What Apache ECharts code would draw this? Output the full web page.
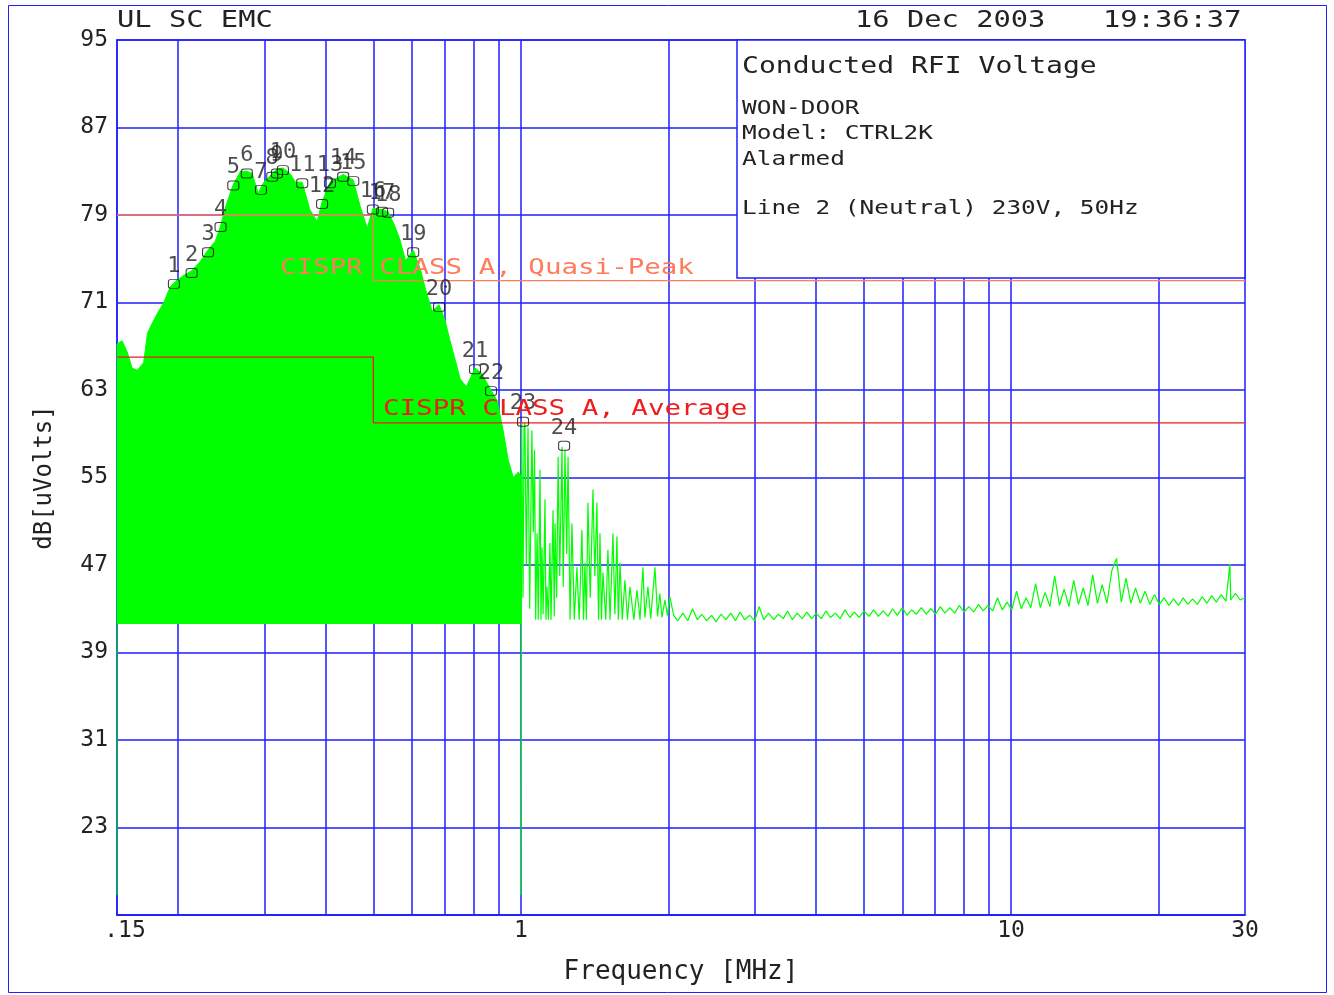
<!DOCTYPE html>
<html>
<head>
<meta charset="utf-8">
<title>Conducted RFI Voltage</title>
<script src="https://cdn.jsdelivr.net/npm/echarts@6/dist/echarts.min.js"></script>
<style>
  html, body { margin: 0; padding: 0; background: #ffffff; }
  #chart { width: 1334px; height: 995px; }
</style>
</head>
<body>
<div id="chart"></div>
<script>
// fonts / colours
const FONT = '"DejaVu Sans Mono", monospace';
const BLUE = '#1f1fff';
const GREEN = '#00ff00';

// axes
const yMin = 15, yMax = 95, yStep = 8;
const fMin = 0.15, fMax = 30;
const gridFreqs = [0.2, 0.3, 0.4, 0.5, 0.6, 0.7, 0.8, 0.9, 1, 2, 3, 4, 5, 6, 7, 8, 9, 10, 20];
const xTickText = { '0.15': '{lo|.15}', '1': '1', '10': '10', '30': '30' };

// sweep 1 (0.15 - 1 MHz), peak envelope [MHz, dBuV], filled down to the noise floor
const noiseFloor = 41.6;
const sweep1 = [
  [0.15, 16.8], [0.15, 67.2], [0.1536, 67.5], [0.1573, 66.5], [0.1611, 65.0], [0.165, 64.8],
  [0.170, 65.5], [0.1731, 68.2], [0.1774, 69.2], [0.1813, 70.0], [0.1869, 71.0], [0.1924, 72.4],
  [0.197, 72.9], [0.204, 73.4], [0.213, 73.9], [0.2214, 74.7], [0.230, 75.8], [0.238, 76.6],
  [0.244, 78.0], [0.250, 79.8], [0.259, 81.8], [0.268, 83.0], [0.276, 83.0], [0.283, 82.8],
  [0.291, 81.0], [0.299, 82.0], [0.311, 82.8], [0.318, 83.2], [0.327, 83.3], [0.338, 82.8],
  [0.347, 82.0], [0.358, 82.0], [0.371, 79.5], [0.384, 78.4], [0.393, 80.2], [0.408, 82.0],
  [0.422, 82.4], [0.434, 82.7], [0.455, 82.2], [0.470, 79.8], [0.486, 77.8], [0.499, 79.6],
  [0.521, 79.5], [0.536, 79.3], [0.553, 78.0], [0.566, 76.8], [0.582, 74.8], [0.603, 75.8],
  [0.624, 74.0], [0.639, 72.2], [0.659, 70.2], [0.681, 70.8], [0.700, 69.4], [0.716, 67.6],
  [0.735, 65.7], [0.752, 64.0], [0.774, 63.3], [0.806, 65.0], [0.829, 64.6], [0.869, 63.0],
  [0.895, 62.0], [0.920, 59.3], [0.942, 56.6], [0.965, 55.0], [0.988, 55.5], [0.998, 55.2],
  [0.998, 41.6]
];

// sweep 2 (1 - 30 MHz), trace readings [MHz, dBuV]
const sweep2 = [
  [1.0, 16.8], [1.002, 41.8], [1.004, 60.1], [1.010, 44.0], [1.015, 59.5], [1.019, 60.0],
  [1.026, 47.0], [1.034, 59.6], [1.042, 43.0], [1.053, 59.3], [1.060, 50.0], [1.066, 57.5],
  [1.072, 42.0], [1.079, 49.9], [1.085, 42.0], [1.094, 55.7], [1.099, 42.0], [1.104, 48.6],
  [1.110, 42.5], [1.120, 53.0], [1.125, 42.0], [1.130, 45.0], [1.138, 42.0], [1.146, 49.0],
  [1.152, 42.0], [1.163, 52.0], [1.170, 42.3], [1.174, 50.8], [1.183, 44.0], [1.191, 56.9],
  [1.200, 46.0], [1.213, 57.8], [1.220, 45.0], [1.230, 57.5], [1.240, 48.0], [1.248, 56.9],
  [1.260, 42.0], [1.271, 50.8], [1.285, 42.0], [1.301, 46.8], [1.315, 42.0], [1.332, 50.2],
  [1.342, 42.0], [1.351, 47.2], [1.360, 42.0], [1.370, 52.7], [1.385, 44.0], [1.403, 53.9],
  [1.415, 46.0], [1.429, 52.7], [1.440, 42.0], [1.450, 49.9], [1.460, 42.0], [1.470, 46.3],
  [1.490, 42.0], [1.505, 48.4], [1.520, 42.0], [1.541, 49.9], [1.555, 42.5], [1.570, 49.6],
  [1.580, 42.0], [1.593, 47.2], [1.610, 42.0], [1.630, 45.6], [1.650, 42.0], [1.669, 45.0],
  [1.700, 42.0], [1.725, 44.7], [1.750, 42.0], [1.774, 46.8], [1.790, 42.2], [1.816, 45.0],
  [1.840, 42.1], [1.877, 46.8], [1.900, 42.3], [1.921, 44.4], [1.940, 42.2], [1.967, 43.8],
  [1.990, 42.4], [2.013, 44.1],
  [2.05, 42.4], [2.09, 41.9], [2.14, 42.6], [2.19, 41.9], [2.24, 43.0], [2.29, 42.0], [2.34, 42.5],
  [2.39, 41.9], [2.45, 42.4], [2.5, 41.8], [2.56, 42.5], [2.62, 42.0], [2.68, 42.6], [2.74, 41.9],
  [2.8, 42.7], [2.86, 42.0], [2.93, 42.4], [3.0, 41.9], [3.06, 43.2], [3.13, 42.0], [3.2, 42.6],
  [3.28, 42.0], [3.35, 42.5], [3.43, 42.1], [3.5, 42.8], [3.58, 42.0], [3.66, 42.6], [3.75, 42.1],
  [3.83, 42.7], [3.92, 42.1], [4.0, 42.6], [4.1, 42.1], [4.19, 42.8], [4.28, 42.2], [4.38, 42.6],
  [4.48, 42.1], [4.58, 42.9], [4.69, 42.2], [4.79, 42.7], [4.9, 42.2], [5.01, 42.8], [5.13, 42.3],
  [5.24, 42.9], [5.36, 42.3], [5.48, 42.8], [5.61, 42.3], [5.73, 43.0], [5.86, 42.4], [6.0, 43.1],
  [6.13, 42.4], [6.27, 42.9], [6.41, 42.5], [6.56, 43.1], [6.71, 42.5], [6.86, 43.0], [7.01, 42.5],
  [7.17, 43.2], [7.33, 42.6], [7.5, 43.1], [7.67, 42.6], [7.84, 43.3], [8.02, 42.7], [8.2, 43.2],
  [8.39, 42.7], [8.58, 43.4], [8.77, 42.8], [8.97, 43.3], [9.17, 42.8], [9.38, 44.0], [9.59, 42.9],
  [9.81, 43.6], [10.03, 42.9], [10.26, 44.6], [10.49, 43.0], [10.73, 44.0], [10.97, 43.1],
  [11.22, 45.3], [11.47, 43.1], [11.73, 44.5], [12.0, 43.2], [12.27, 46.0], [12.55, 43.3],
  [12.83, 44.8], [13.12, 43.2], [13.42, 45.6], [13.72, 43.4], [14.03, 44.9], [14.35, 43.3],
  [14.67, 46.1], [15.0, 43.5], [15.34, 45.2], [15.69, 43.5], [16.05, 46.5], [16.41, 47.6],
  [16.78, 43.6], [17.16, 45.8], [17.55, 43.5], [17.94, 44.9], [18.35, 43.5], [18.76, 44.6],
  [19.19, 43.4], [19.62, 44.3], [20.06, 43.4], [20.52, 44.0], [20.98, 43.3], [21.45, 43.9],
  [21.94, 43.3], [22.44, 44.0], [22.94, 43.4], [23.46, 43.9], [23.99, 43.4], [24.53, 44.1],
  [25.09, 43.5], [25.65, 44.2], [26.23, 43.6], [26.83, 44.3], [27.43, 43.7], [27.95, 47.1],
  [28.05, 43.8], [28.69, 44.4], [29.34, 43.8], [30.0, 44.0]
];

// numbered peak markers
const markerFreq = [0.196, 0.213, 0.230, 0.244, 0.259, 0.276, 0.295, 0.311, 0.318, 0.327, 0.358, 0.393,
  0.408, 0.434, 0.455, 0.499, 0.521, 0.536, 0.603, 0.681, 0.806, 0.869, 1.010, 1.225];
const markerVal = [72.7, 73.7, 75.6, 77.9, 81.7, 82.8, 81.3, 82.5, 82.8, 83.1, 81.9, 80.0,
  81.9, 82.5, 82.1, 79.5, 79.3, 79.2, 75.6, 70.6, 64.9, 62.9, 60.1, 57.9];

// CISPR 22 class A limits
const limitFreq = [0.15, 0.5, 0.5, 30];
const qpLimit = [79, 79, 73, 73];
const avgLimit = [66, 66, 60, 60];

const chart = echarts.init(document.getElementById('chart'));

function txt(str, x, y, size, color, sx) {
  return {
    type: 'text', x: x, y: y, scaleX: sx || 1, z: 100,
    style: { text: str, fontSize: size, fontFamily: FONT, fill: color, align: 'left', verticalAlign: 'middle' }
  };
}

const option = {
  animation: false,
  backgroundColor: '#ffffff',
  grid: { left: 117, top: 40, right: 89, bottom: 80, show: true, borderColor: BLUE, borderWidth: 1.5, backgroundColor: 'transparent' },
  xAxis: {
    type: 'log', logBase: 10, min: fMin, max: fMax,
    name: 'Frequency [MHz]', nameLocation: 'middle', nameGap: 44,
    nameTextStyle: { fontFamily: FONT, fontSize: 26, color: '#222' },
    axisLine: { lineStyle: { color: BLUE, width: 1.5 } },
    axisTick: { show: false },
    splitLine: { show: false },
    axisLabel: {
      fontFamily: FONT, fontSize: 23, color: '#222', margin: 5, showMinLabel: true, showMaxLabel: true,
      rich: { lo: { fontFamily: FONT, fontSize: 23, color: '#222', padding: [0, 0, 0, 16] } },
      formatter: v => xTickText[String(+v.toPrecision(3))] || ''
    }
  },
  yAxis: {
    type: 'value', min: yMin, max: yMax, interval: yStep,
    name: 'dB[uVolts]', nameLocation: 'middle', nameGap: 60,
    nameTextStyle: { fontFamily: FONT, fontSize: 24, color: '#222' },
    axisLine: { show: true, lineStyle: { color: BLUE, width: 1.5 } },
    axisTick: { show: false },
    splitLine: { show: true, lineStyle: { color: BLUE, width: 1.5 } },
    axisLabel: {
      fontFamily: FONT, fontSize: 23, color: '#222', margin: 9,
      formatter: v => (v === yMin ? '' : String(v))
    }
  },
  series: [
    {
      name: 'grid', type: 'line', data: [], z: 1, silent: true,
      markLine: {
        z: 1, silent: true, symbol: 'none', label: { show: false },
        lineStyle: { color: BLUE, width: 1.5, type: 'solid' },
        data: gridFreqs.map(f => ({ xAxis: f }))
      }
    },
    {
      name: 'Sweep 0.15-1 MHz', type: 'line', data: sweep1, z: 3,
      showSymbol: false, symbol: 'none', sampling: null, silent: true,
      lineStyle: { color: GREEN, width: 1 },
      areaStyle: { color: GREEN, opacity: 1, origin: noiseFloor }
    },
    {
      name: 'Sweep 1-30 MHz', type: 'line', data: sweep2, z: 3,
      showSymbol: false, symbol: 'none', silent: true,
      lineStyle: { color: GREEN, width: 1.2 }
    },
    {
      name: 'QP limit', type: 'line', z: 6, symbol: 'none', silent: true,
      data: limitFreq.map((f, i) => [f, qpLimit[i]]),
      lineStyle: { color: '#ff7b5c', width: 1.3 }
    },
    {
      name: 'AV limit', type: 'line', z: 6, symbol: 'none', silent: true,
      data: limitFreq.map((f, i) => [f, avgLimit[i]]),
      lineStyle: { color: '#ee1c1c', width: 1.3 }
    },
    {
      name: 'Peaks', type: 'scatter', z: 7, silent: true,
      data: markerFreq.map((f, i) => [f, markerVal[i], i + 1]),
      symbol: 'roundRect', symbolSize: [11, 9],
      itemStyle: { color: 'rgba(0,0,0,0)', borderColor: '#111', borderWidth: 1 },
      label: {
        show: true, position: 'top', distance: 2, formatter: p => p.data[2],
        fontFamily: FONT, fontSize: 22, color: '#222'
      }
    }
  ],
  graphic: [
    // frame around the whole sheet
    { type: 'rect', z: 90, shape: { x: 8.5, y: 5.5, width: 1318, height: 987 }, style: { fill: 'none', stroke: BLUE, lineWidth: 1 } },
    // info box
    { type: 'rect', z: 95, shape: { x: 737, y: 40, width: 508, height: 238 }, style: { fill: '#ffffff', stroke: BLUE, lineWidth: 1.5 } },
    txt('Conducted RFI Voltage', 742, 67, 23, '#222', 1.22),
    txt('WON-DOOR', 742, 109, 20, '#222', 1.22),
    txt('Model: CTRL2K', 742, 134, 20, '#222', 1.22),
    txt('Alarmed', 742, 160, 20, '#222', 1.22),
    txt('Line 2 (Neutral) 230V, 50Hz', 742, 209, 20, '#222', 1.22),
    // header
    txt('UL SC EMC', 117, 21, 23, '#222', 1.25),
    txt('16 Dec 2003', 855, 21, 23, '#222', 1.25),
    txt('19:36:37', 1103, 21, 23, '#222', 1.25),
    // limit labels
    txt('CISPR CLASS A, Quasi-Peak', 280, 268, 22, '#ff7b5c', 1.25),
    txt('CISPR CLASS A, Average', 383, 409, 22, '#ee1c1c', 1.25)
  ]
};

chart.setOption(option);
</script>
</body>
</html>
